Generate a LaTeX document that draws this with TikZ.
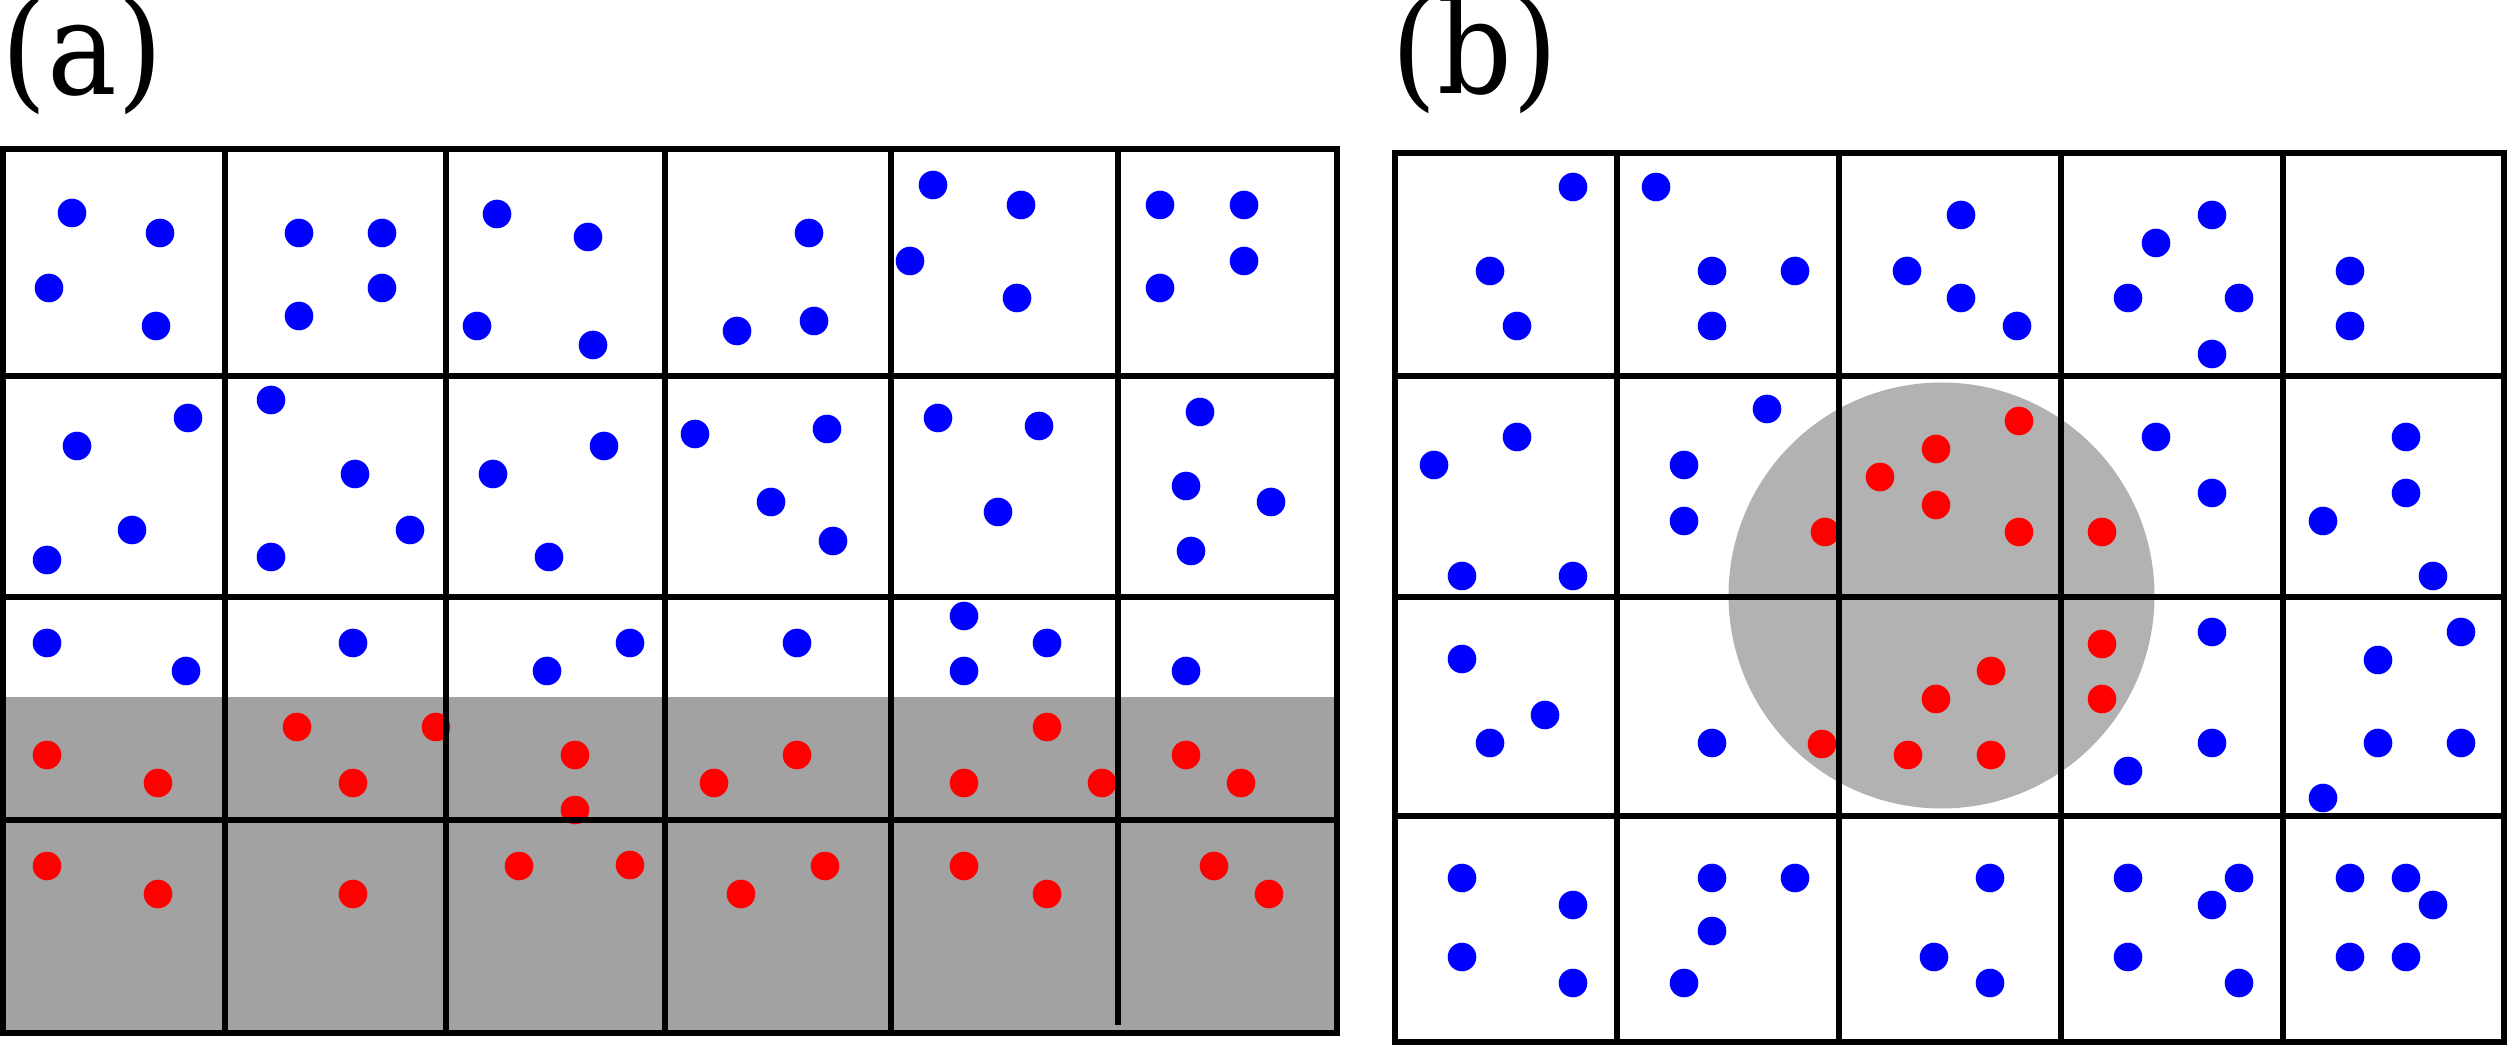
\documentclass[tikz,border=0pt]{standalone}
\usepackage{fontspec}
\setmainfont{DejaVu Serif}[FakeStretch=0.9]
\definecolor{shadeA}{RGB}{162,162,162}
\definecolor{shadeB}{RGB}{178,178,178}
\definecolor{dotblue}{RGB}{0,0,255}
\definecolor{dotred}{RGB}{255,0,0}
\tikzset{
  gridline/.style={line width=0.053cm, black, line cap=rect, line join=miter},
  bdot/.style={fill=dotblue},
  rdot/.style={fill=dotred},
  lbl/.style={anchor=base west, inner sep=0pt, font=\fontsize{37}{44}\selectfont}
}
\begin{document}
\begin{tikzpicture}[x=0.01cm,y=-0.01cm]
\useasboundingbox (0,0) rectangle (2508,1046);
% labels
\node[lbl] (labA) at (1,95) {(a)};
\node[lbl] (labB) at (1391,94) {(b)};
% ---------- panel (a) ----------
\fill[shadeA] (3,697) rectangle (1337,1033);
\foreach \p in {(72,213),(160,233),(49,288),(156,326),
  (299,233),(382,233),(382,288),(299,316),
  (497,214),(588,237),(477,326),(593,345),
  (809,233),(814,321),(737,331),
  (933,185),(1021,205),(910,261),(1017,298),
  (1160,205),(1244,205),(1244,261),(1160,288),
  (188,418),(77,446),(132,530),(47,560),
  (271,400),(355,474),(410,530),(271,557),
  (604,446),(493,474),(549,557),
  (695,434),(827,429),(771,502),(833,541),
  (938,418),(1039,426),(998,512),
  (1200,412),(1186,486),(1271,502),(1191,551),
  (47,643),(186,671),(353,643),(547,671),(630,643),
  (797,643),(964,616),(1047,643),(964,671),(1186,671)}
  \fill[bdot] \p circle[radius=14.3];
\foreach \p in {(47,755),(158,783),(297,727),(436,727),(353,783),(575,755),(575,810),
  (47,866),(158,894),(353,894),(519,866),(630,865),
  (797,755),(714,783),(1047,727),(964,783),(1102,783),(1186,755),(1241,783),
  (825,866),(741,894),(964,866),(1047,894),(1214,866),(1269,894)}
  \fill[rdot] \p circle[radius=14.3];
% grid (a)
\draw[gridline] (3,149) rectangle (1337,1033);
\foreach \yy in {376,597,820} \draw[gridline] (3,\yy) -- (1337,\yy);
\foreach \xx in {225,446,665,891} \draw[gridline] (\xx,149) -- (\xx,1033);
\draw[gridline, line cap=butt] (1118,149) -- (1118,1025);
% ---------- panel (b) ----------
\fill[shadeB] (1941.5,595.5) circle[radius=213];
\foreach \p in {(1573,187),(1490,271),(1517,326),
  (1656,187),(1712,271),(1795,271),(1712,326),
  (1907,271),(1961,215),(1961,298),(2017,326),
  (2212,215),(2156,243),(2128,298),(2239,298),(2212,354),
  (2350,271),(2350,326),
  (1517,437),(1434,465),(1462,576),(1573,576),
  (1767,409),(1684,465),(1684,521),
  (2156,437),(2212,493),
  (2406,437),(2406,493),(2323,521),(2433,576),
  (1462,659),(1545,715),(1490,743),
  (1712,743),
  (2212,632),(2212,743),(2128,771),
  (2461,632),(2378,660),(2378,743),(2461,743),(2323,798),
  (1462,878),(1573,905),(1462,957),(1573,983),
  (1712,878),(1795,878),(1712,931),(1684,983),
  (1934,957),(1990,878),(1990,983),
  (2128,878),(2239,878),(2212,905),(2128,957),(2239,983),
  (2350,878),(2406,878),(2433,905),(2350,957),(2406,957)}
  \fill[bdot] \p circle[radius=14.3];
\foreach \p in {(1825,532),(1936,449),(1880,477),(1936,505),(2019,421),(2019,532),(2102,532),
  (1822,744),(1936,699),(1908,755),(1991,671),(1991,755),(2102,644),(2102,699)}
  \fill[rdot] \p circle[radius=14.3];
% grid (b)
\draw[gridline] (1395,153) rectangle (2504,1042);
\foreach \yy in {376,597,816} \draw[gridline] (1395,\yy) -- (2504,\yy);
\foreach \xx in {1617,1839,2061,2283} \draw[gridline] (\xx,153) -- (\xx,1042);
\end{tikzpicture}
\end{document}
